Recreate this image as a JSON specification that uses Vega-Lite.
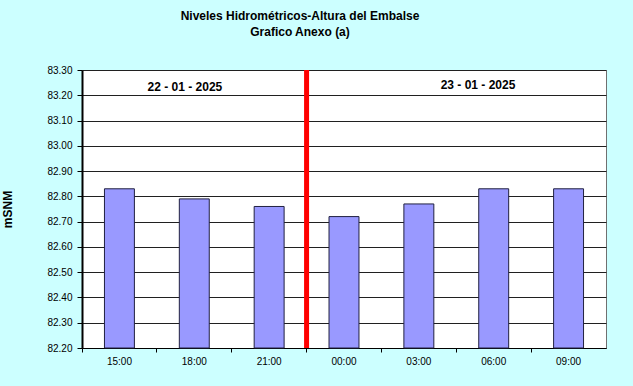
{
  "$schema": "https://vega.github.io/schema/vega-lite/v6.json",
  "autosize": {"type": "none"},
  "width": 524,
  "height": 278,
  "padding": {"left": 82, "top": 70, "right": 27, "bottom": 38},
  "background": "#CCFFFF",
  "title": {
    "text": ["Niveles Hidrométricos-Altura del Embalse", "Grafico Anexo (a)"],
    "font": "Liberation Sans",
    "fontSize": 12,
    "fontWeight": "bold",
    "color": "#000000",
    "anchor": "middle",
    "frame": "group",
    "dx": -44,
    "offset": 26,
    "lineHeight": 16
  },
  "config": {
    "view": {"stroke": "#707070", "strokeWidth": 1, "fill": "#FFFFFF"},
    "axis": {"labelFont": "Liberation Sans", "titleFont": "Liberation Sans"}
  },
  "datasets": {
    "levels": [
      {"hora": "15:00", "nivel": 82.83},
      {"hora": "18:00", "nivel": 82.79},
      {"hora": "21:00", "nivel": 82.76},
      {"hora": "00:00", "nivel": 82.72},
      {"hora": "03:00", "nivel": 82.77},
      {"hora": "06:00", "nivel": 82.83},
      {"hora": "09:00", "nivel": 82.83}
    ],
    "fechas": [
      {"hora": "18:00", "nivel": 83.234, "fecha": "22 - 01 - 2025"},
      {"hora": "06:00", "nivel": 83.24, "fecha": "23 - 01 - 2025"}
    ],
    "corte": [
      {"hora": "00:00"}
    ]
  },
  "layer": [
    {
      "data": {"name": "levels"},
      "mark": {"type": "bar", "fill": "#9999FF", "stroke": "#202040", "strokeWidth": 1, "width": {"band": 0.4}},
      "encoding": {
        "x": {
          "field": "hora",
          "type": "ordinal",
          "sort": null,
          "scale": {"paddingInner": 0, "paddingOuter": 0},
          "axis": {
            "title": null,
            "labelAngle": 0,
            "labelFontSize": 10,
            "labelColor": "#000000",
            "labelPadding": 4,
            "tickSize": 4,
            "tickColor": "#000000",
            "domainColor": "#000000",
            "bandPosition": 0,
            "grid": false
          }
        },
        "y": {
          "field": "nivel",
          "type": "quantitative",
          "scale": {"domain": [82.2, 83.3], "nice": false, "zero": false},
          "axis": {
            "title": "mSNM",
            "titleFontSize": 12,
            "titleFontWeight": "bold",
            "titleColor": "#000000",
            "titlePadding": 32,
            "values": [82.2, 82.3, 82.4, 82.5, 82.6, 82.7, 82.8, 82.9, 83.0, 83.1, 83.2, 83.3],
            "tickCount": 20,
            "format": ".2f",
            "labelOverlap": false,
            "labelBound": false,
            "labelFlush": false,
            "labelFontSize": 10,
            "labelColor": "#000000",
            "labelPadding": 5,
            "tickSize": 5,
            "tickColor": "#000000",
            "domainColor": "#000000",
            "domainWidth": 2,
            "grid": true,
            "gridColor": "#202020",
            "gridOpacity": 1,
            "gridWidth": 1
          }
        },
        "y2": {"datum": 82.2}
      }
    },
    {
      "data": {"name": "corte"},
      "mark": {"type": "rule", "color": "#FF0000", "strokeWidth": 5},
      "encoding": {
        "x": {"field": "hora", "type": "ordinal", "sort": null, "bandPosition": 0}
      }
    },
    {
      "data": {"name": "fechas"},
      "transform": [{"filter": "datum.hora == '18:00'"}],
      "mark": {"type": "text", "font": "Liberation Sans", "fontSize": 12, "fontWeight": "bold", "color": "#000000", "baseline": "middle", "align": "center"},
      "encoding": {
        "x": {"field": "hora", "type": "ordinal", "sort": null, "bandPosition": 0.375},
        "y": {"field": "nivel", "type": "quantitative"},
        "text": {"field": "fecha"}
      }
    },
    {
      "data": {"name": "fechas"},
      "transform": [{"filter": "datum.hora == '06:00'"}],
      "mark": {"type": "text", "font": "Liberation Sans", "fontSize": 12, "fontWeight": "bold", "color": "#000000", "baseline": "middle", "align": "center"},
      "encoding": {
        "x": {"field": "hora", "type": "ordinal", "sort": null, "bandPosition": 0.29},
        "y": {"field": "nivel", "type": "quantitative"},
        "text": {"field": "fecha"}
      }
    }
  ]
}
